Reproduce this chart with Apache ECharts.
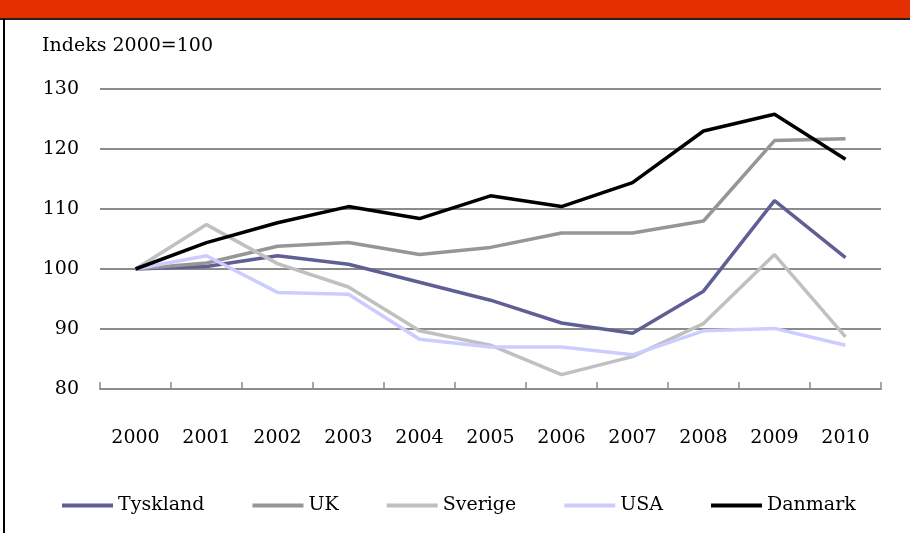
<!DOCTYPE html>
<html>
<head>
<meta charset="utf-8">
<script src="https://cdn.jsdelivr.net/npm/echarts@6/dist/echarts.min.js"></script>
<style>
  html, body { margin: 0; padding: 0; background: #fff; }
  #chart { width: 910px; height: 533px; }
</style>
</head>
<body>
<div id="chart"></div>
<script>
var years = ['2000', '2001', '2002', '2003', '2004', '2005', '2006', '2007', '2008', '2009', '2010'];
var tyskland = [100, 100.4, 102.2, 100.8, 97.8, 94.8, 91.0, 89.3, 96.3, 111.4, 101.9];
var uk       = [100, 101.0, 103.8, 104.4, 102.4, 103.6, 106.0, 106.0, 108.0, 121.4, 121.7];
var sverige  = [100, 107.4, 100.9, 97.0, 89.7, 87.3, 82.4, 85.4, 90.9, 102.4, 88.7];
var usa      = [100, 102.2, 96.1, 95.8, 88.3, 87.0, 87.0, 85.7, 89.7, 90.1, 87.3];
var danmark  = [100, 104.4, 107.7, 110.4, 108.4, 112.2, 110.4, 114.4, 123.0, 125.8, 118.3];

var chart = echarts.init(document.getElementById('chart'));
var font = '"DejaVu Serif", "Liberation Serif", serif';

function line(name, data, color) {
    return {
        name: name,
        type: 'line',
        data: data,
        symbol: 'none',
        color: color,
        lineStyle: {color: color, width: 3.5},
        animation: false
    };
}

var option = {
    backgroundColor: '#fff',
    textStyle: {fontFamily: font},
    graphic: [
        {type: 'rect', shape: {x: 0, y: 0, width: 910, height: 19}, style: {fill: '#e52f00'}},
        {type: 'rect', shape: {x: 0, y: 18, width: 910, height: 2}, style: {fill: '#222'}},
        {type: 'rect', shape: {x: 3, y: 19, width: 2, height: 514}, style: {fill: '#000'}},
        {type: 'text', left: 42, top: 37, style: {text: 'Indeks 2000=100', font: '19px ' + font, fill: '#000'}}
    ],
    grid: {left: 100, right: 29, top: 89, bottom: 144},
    legend: {
        left: 57,
        top: 491,
        icon: 'rect',
        itemWidth: 51,
        itemHeight: 4,
        itemGap: 48,
        textStyle: {fontFamily: font, fontSize: 19, color: '#000'},
        data: ['Tyskland', 'UK', 'Sverige', 'USA', 'Danmark']
    },
    xAxis: {
        type: 'category',
        data: years,
        boundaryGap: true,
        axisLine: {lineStyle: {color: '#8c8c8c', width: 2}},
        axisTick: {show: true, inside: true, length: 7, lineStyle: {color: '#8c8c8c', width: 1.5}},
        axisLabel: {margin: 40, fontFamily: font, fontSize: 19, color: '#000'}
    },
    yAxis: {
        type: 'value',
        min: 80,
        max: 130,
        interval: 10,
        axisLine: {show: false},
        axisTick: {show: false},
        axisLabel: {margin: 21, fontFamily: font, fontSize: 19, color: '#000'},
        splitLine: {lineStyle: {color: '#8c8c8c', width: 2}}
    },
    series: [
        line('Tyskland', tyskland, '#5f5f96'),
        line('UK', uk, '#969696'),
        line('Sverige', sverige, '#c0c0c0'),
        line('USA', usa, '#ccccff'),
        line('Danmark', danmark, '#000000')
    ]
};

chart.setOption(option);
</script>
</body>
</html>
